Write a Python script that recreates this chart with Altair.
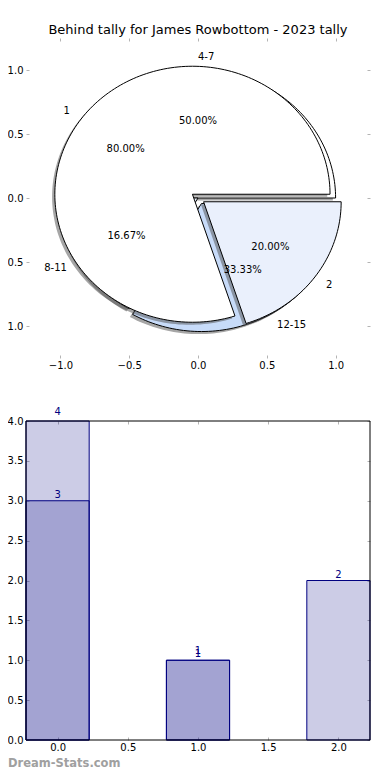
import numpy as np
import pandas as pd
import altair as alt

TITLE = "Behind tally for James Rowbottom - 2023 tally"
WATERMARK = "Dream-Stats.com"

# outer pie
outer_labels = ["4-7", "8-11", "12-15"]
outer_values = [3, 1, 2]
outer_colors = ["#ffffff", "#e9f0fc", "#c7dbf9"]
outer_explode = [0.0, 0.0, 0.05]

# inner pie
inner_labels = ["1", "2"]
inner_values = [4, 1]
inner_colors = ["#ffffff", "#eaf0fc"]
inner_explode = [0.05, 0.05]

# bar series
bars_a_pos = [0, 1]
bars_a_val = [4, 1]
bars_b_pos = [0, 1, 2]
bars_b_val = [3, 1, 2]

pie_ticks = [-1.0, -0.5, 0.0, 0.5, 1.0]
bar_x_ticks = [0.0, 0.5, 1.0, 1.5, 2.0]
bar_y_ticks = [0.0, 0.5, 1.0, 1.5, 2.0, 2.5, 3.0, 3.5, 4.0]

# layout / style constants
W = 344
H = 702
PIE_BOTTOM = 320
BAR_TOP = 383
PIE_LIM = 1.25
BAR_WIDTH = 0.45
BAR_XLIM = (-0.225, 2.225)
BAR_YLIM = (0.0, 4.0)
TICK = 3
SHADOW = (-0.02, -0.02)
FONT = "DejaVu Sans"
NAVY = "#000080"
TICK_COLOR = "#b4b4b4"

xs_pie = alt.Scale(domain=[-PIE_LIM, PIE_LIM], range=[0, W], nice=False, zero=False)
ys_pie = alt.Scale(domain=[-PIE_LIM, PIE_LIM], range=[PIE_BOTTOM, 0], nice=False, zero=False)
xs_bar = alt.Scale(domain=list(BAR_XLIM), range=[0, W], nice=False, zero=False)
ys_bar = alt.Scale(domain=list(BAR_YLIM), range=[H, BAR_TOP], nice=False, zero=False)


def axis(orient, values, labels=True, offset=-TICK, pad=3):
    kw = dict(orient=orient, values=values, domain=False, grid=False, ticks=True,
              tickSize=TICK, tickColor=TICK_COLOR, tickWidth=1, offset=offset,
              title=None, labelFlush=False, labelOverlap=False)
    if labels:
        kw.update(format=".1f", labelFont=FONT, labelFontSize=10,
                  labelColor="black", labelPadding=pad)
    else:
        kw.update(labels=False)
    return alt.Axis(**kw)


def wedge_geom(values, explode):
    total = float(sum(values))
    start = 0.0
    res = []
    for v, e in zip(values, explode):
        end = start + 360.0 * v / total
        mid = np.deg2rad((start + end) / 2)
        cx, cy = e * np.cos(mid), e * np.sin(mid)
        n = max(3, int((end - start) / 1.5) + 1)
        a = np.deg2rad(np.linspace(start, end, n))
        px = np.concatenate([[cx], cx + np.cos(a), [cx]])
        py = np.concatenate([[cy], cy + np.sin(a), [cy]])
        res.append(dict(px=px, py=py, cx=cx, cy=cy, mid=mid, frac=v / total))
        start = end
    return res


def poly(px, py, **mark):
    df = pd.DataFrame({"x": px, "y": py, "i": np.arange(len(px))})
    return alt.Chart(df).mark_line(**mark).encode(
        x=alt.X("x:Q", scale=xs_pie, axis=None),
        y=alt.Y("y:Q", scale=ys_pie, axis=None),
        order=alt.Order("i:Q"),
    )


pie_layers = []
texts = []
for values, explode, colors, labels in [
    (outer_values, outer_explode, outer_colors, outer_labels),
    (inner_values, inner_explode, inner_colors, inner_labels),
]:
    geo = wedge_geom(values, explode)
    for g in geo:
        pie_layers.append(poly(g["px"] + SHADOW[0], g["py"] + SHADOW[1],
                               fill="#4d4d4d", fillOpacity=0.5, strokeOpacity=0))
    for g, c in zip(geo, colors):
        pie_layers.append(poly(g["px"], g["py"], fill=c, stroke="black", strokeWidth=1))
    for g, lab in zip(geo, labels):
        lx = g["cx"] + 1.1 * np.cos(g["mid"])
        ly = g["cy"] + 1.1 * np.sin(g["mid"])
        texts.append(dict(x=lx, y=ly, text=lab, al="left" if lx > 0 else "right"))
        texts.append(dict(x=g["cx"] + 0.6 * np.cos(g["mid"]),
                          y=g["cy"] + 0.6 * np.sin(g["mid"]),
                          text=f"{g['frac'] * 100:.2f}%", al="center"))

tdf = pd.DataFrame(texts)
for al in ["left", "right", "center"]:
    pie_layers.append(
        alt.Chart(tdf).transform_filter(alt.datum.al == al)
        .mark_text(align=al, baseline="middle", font=FONT, fontSize=10, color="black")
        .encode(x=alt.X("x:Q", scale=xs_pie, axis=None),
                y=alt.Y("y:Q", scale=ys_pie, axis=None),
                text="text:N")
    )

pie_tick_df = pd.DataFrame({"t": pie_ticks})
pie_layers.append(
    alt.Chart(pie_tick_df).mark_point(opacity=0).encode(
        x=alt.X("t:Q", scale=xs_pie, axis=axis("bottom", pie_ticks, offset=-(H - PIE_BOTTOM) - TICK, pad=2)),
        y=alt.Y("t:Q", scale=ys_pie, axis=axis("left", pie_ticks, pad=3)),
    )
)
pie_layers.append(
    alt.Chart(pie_tick_df).mark_point(opacity=0).encode(
        x=alt.X("t:Q", scale=xs_pie, axis=axis("top", pie_ticks, labels=False)),
        y=alt.Y("t:Q", scale=ys_pie, axis=axis("right", pie_ticks, labels=False)),
    )
)
pie = alt.layer(*pie_layers)


def bar_layers(pos, val, dy):
    df = pd.DataFrame({"pos": pos, "val": val})
    b = (alt.Chart(df)
         .transform_calculate(x1=f"datum.pos - {BAR_WIDTH / 2}", x2=f"datum.pos + {BAR_WIDTH / 2}", y0="0")
         .mark_bar(fill=NAVY, fillOpacity=0.2, stroke=NAVY, strokeWidth=1)
         .encode(x=alt.X("x1:Q", scale=xs_bar, axis=None), x2="x2:Q",
                 y=alt.Y("val:Q", scale=ys_bar, axis=None), y2="y0:Q"))
    t = (alt.Chart(df)
         .mark_text(color=NAVY, font=FONT, fontSize=10, baseline="alphabetic", dy=dy)
         .encode(x=alt.X("pos:Q", scale=xs_bar, axis=None),
                 y=alt.Y("val:Q", scale=ys_bar, axis=None), text="val:Q"))
    return b, t


ba, ta = bar_layers(bars_a_pos, bars_a_val, -6)
bb, tb = bar_layers(bars_b_pos, bars_b_val, -3)

frame_df = pd.DataFrame({"x1": [BAR_XLIM[0]], "x2": [BAR_XLIM[1]], "y1": [BAR_YLIM[0]], "y2": [BAR_YLIM[1]]})
frame = alt.Chart(frame_df).mark_rect(fill="transparent", stroke="black", strokeWidth=1).encode(
    x=alt.X("x1:Q", scale=xs_bar, axis=None), x2="x2:Q",
    y=alt.Y("y1:Q", scale=ys_bar, axis=None), y2="y2:Q")

bx_df = pd.DataFrame({"t": bar_x_ticks})
by_df = pd.DataFrame({"t": bar_y_ticks})
bar_axes = []
bar_axes.append(alt.Chart(bx_df).mark_point(opacity=0).encode(
    x=alt.X("t:Q", scale=xs_bar, axis=axis("bottom", bar_x_ticks, pad=2))))
bar_axes.append(alt.Chart(bx_df).mark_point(opacity=0).encode(
    x=alt.X("t:Q", scale=xs_bar, axis=axis("top", bar_x_ticks, labels=False, offset=-BAR_TOP - TICK))))
bar_axes.append(alt.Chart(by_df).mark_point(opacity=0).encode(
    y=alt.Y("t:Q", scale=ys_bar, axis=axis("left", bar_y_ticks, pad=3))))
bar_axes.append(alt.Chart(by_df).mark_point(opacity=0).encode(
    y=alt.Y("t:Q", scale=ys_bar, axis=axis("right", bar_y_ticks, labels=False))))

bar = alt.layer(ba, bb, ta, tb, frame, *bar_axes)

wm = alt.Chart(pd.DataFrame({"t": [WATERMARK]})).mark_text(
    align="left", baseline="middle", font=FONT, fontSize=11.5, color="#a0a0a0", fontWeight="bold"
).encode(x=alt.value(-18), y=alt.value(726), text="t:N")

chart = (
    alt.layer(pie, bar, wm)
    .resolve_scale(x="independent", y="independent")
    .properties(
        width=W, height=H,
        title=alt.Title(TITLE, font=FONT, fontSize=13, fontWeight="normal", color="black",
                        anchor="middle", baseline="alphabetic", offset=-1, dy=8),
        autosize=alt.AutoSizeParams(type="none"),
        padding={"left": 18, "top": 30, "right": 12, "bottom": 32},
        background="white",
    )
    .configure_view(stroke=None)
)

chart.save("out.html", embed_options={"renderer": "svg", "actions": False})
